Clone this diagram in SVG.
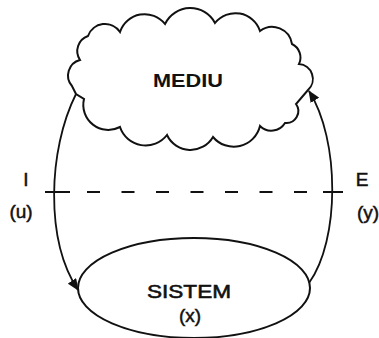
<svg xmlns="http://www.w3.org/2000/svg" width="379" height="338" viewBox="0 0 379 338">
<style>
.shape{fill:none;stroke:#111;stroke-width:2}
.conn{fill:none;stroke:#111;stroke-width:1.8}
.dash{stroke:#111;stroke-width:2}
.lbl{font-family:"Liberation Sans",Arial,sans-serif;fill:#111;font-size:19px}
.b{font-weight:bold}
</style>
<defs>
<marker id="arr" markerWidth="12" markerHeight="10" refX="11" refY="5" orient="auto" markerUnits="userSpaceOnUse">
<path d="M0,0 L12,5 L0,10 Z" fill="#111"/>
</marker>
</defs>
<rect width="379" height="338" fill="#fff"/>
<g id="connectors">
<path class="conn" d="M76,94 C48,150 45,240 78,290" marker-end="url(#arr)"/>
<path class="conn" d="M309,283 C340,240 340,140 309,91" marker-end="url(#arr)"/>
<line class="dash" x1="45" y1="192" x2="70" y2="192"/>
<line class="dash" x1="87" y1="192" x2="343" y2="192" stroke-dasharray="13 21.5"/>
<line class="dash" x1="323" y1="192" x2="343" y2="192"/>
</g>
<g id="mediu">
<path class="shape" d="M72,86 A16,16 0 0 1 80,60 A16,16 0 0 1 88,36 A18,18 0 0 1 120,32 A26,26 0 0 1 165,24 A28,28 0 0 1 215,23 A26,26 0 0 1 260,31 A20,20 0 0 1 292,44 A15,15 0 0 1 299,64 A15,15 0 0 1 308,90 L296,104 A12,12 0 0 1 285,123 A16,16 0 0 1 260,126 A27,27 0 0 1 213,137 A26,26 0 0 1 167,135 A27,27 0 0 1 120,127 A25,25 0 0 1 84,99 L76,94 Z"/>
<text class="lbl b" x="188" y="87" text-anchor="middle" font-size="23" textLength="70" lengthAdjust="spacingAndGlyphs">MEDIU</text>
</g>
<g id="sistem">
<ellipse class="shape" cx="194" cy="288" rx="116" ry="50"/>
<text class="lbl" x="189" y="298" text-anchor="middle" font-size="24" textLength="84" lengthAdjust="spacingAndGlyphs" stroke="#111" stroke-width="0.6">SISTEM</text>
<text class="lbl" x="190" y="322" text-anchor="middle" font-size="19" stroke="#111" stroke-width="0.5">(x)</text>
</g>
<g id="input">
<text class="lbl" x="26" y="186" text-anchor="middle" font-size="20" stroke="#111" stroke-width="0.5">I</text>
<text class="lbl" x="21" y="218" text-anchor="middle" font-size="19" stroke="#111" stroke-width="0.5">(u)</text>
</g>
<g id="output">
<text class="lbl" x="362" y="186" text-anchor="middle" font-size="20" stroke="#111" stroke-width="0.5">E</text>
<text class="lbl" x="368" y="219" text-anchor="middle" font-size="19" stroke="#111" stroke-width="0.5">(y)</text>
</g>
</svg>
